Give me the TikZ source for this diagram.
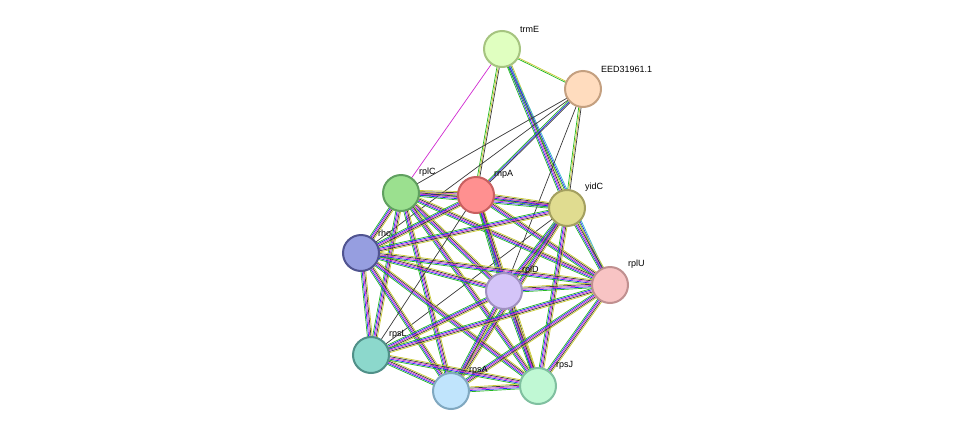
\documentclass[tikz,border=0pt]{standalone}
\usepackage{fontspec}
\setmainfont{Liberation Sans}
\usetikzlibrary{calc}
\definecolor{egr}{HTML}{22B822}
\definecolor{ebl}{HTML}{2828F0}
\definecolor{emg}{HTML}{D028D0}
\definecolor{ebk}{HTML}{383838}
\definecolor{eyl}{HTML}{C8C830}
\definecolor{elg}{HTML}{70D010}
\definecolor{ecy}{HTML}{30B8C8}
\newcommand\edg[3]{\foreach \c [count=\i] in {#3}{\draw[color=\c, line width=0.7pt] ($(#1)!{(\i-2.5)*1.2pt}!90:(#2)$) -- ($(#2)!{(\i-2.5)*1.2pt}!-90:(#1)$);}}
\tikzset{nd/.style={circle,minimum size=36pt,inner sep=0pt,line width=2pt},
lb/.style={anchor=south west,font=\fontsize{9pt}{9pt}\selectfont,inner sep=0pt}}
\begin{document}
\begin{tikzpicture}[x=1pt,y=-1pt]
\useasboundingbox (0,0) rectangle (975,437);
\coordinate (trmE) at (502,49);
\coordinate (EED) at (583,89);
\coordinate (rplC) at (401,193);
\coordinate (rnpA) at (476,195);
\coordinate (yidC) at (567,208);
\coordinate (rho) at (361,253);
\coordinate (rplD) at (504,291);
\coordinate (rplU) at (610,285);
\coordinate (rpsL) at (371,355);
\coordinate (rpsA) at (451,391);
\coordinate (rpsJ) at (538,386);
\edg{trmE}{EED}{egr,eyl}
\draw[color=emg,line width=0.7pt] (trmE) -- (rplC);
\edg{trmE}{rnpA}{egr,eyl,ebk}
\edg{trmE}{yidC}{egr,ebl,emg,ebk,eyl}
\edg{trmE}{rplU}{egr,ebl,ecy}
\edg{EED}{yidC}{egr,eyl,ebk}
\draw[color=ebk,line width=0.7pt] (EED) -- (rplC);
\edg{EED}{rnpA}{egr,ebl,ebk}
\draw[color=ebk,line width=0.7pt] (EED) -- (rplD);
\draw[color=ebk,line width=0.7pt] (EED) -- (rho);
\draw[color=ebk,line width=0.7pt] (yidC) -- (rpsL);
\foreach \a/\b in {rplC/rnpA,rplC/yidC,rplC/rho,rplC/rplD,rplC/rplU,rplC/rpsL,rplC/rpsA,rplC/rpsJ,
rnpA/yidC,rnpA/rho,rnpA/rplD,rnpA/rplU,rnpA/rpsJ,
yidC/rho,yidC/rplD,yidC/rplU,yidC/rpsA,yidC/rpsJ,
rho/rplD,rho/rpsL,rho/rpsA,rho/rpsJ,rho/rplU,
rplD/rplU,rplD/rpsL,rplD/rpsA,rplD/rpsJ,
rplU/rpsL,rplU/rpsA,rplU/rpsJ,
rpsL/rpsA,rpsL/rpsJ,rpsA/rpsJ}
{\edg{\a}{\b}{egr,ebl,emg,ebk,eyl}}
\draw[color=ebk,line width=0.7pt] (rnpA) -- (rpsL);
\node[nd,fill={rgb,255:red,224;green,255;blue,192},draw={rgb,255:red,166;green,196;blue,128}] (n1) at (trmE) {};
\node[nd,fill={rgb,255:red,255;green,220;blue,190},draw={rgb,255:red,196;green,160;blue,128}] (n2) at (EED) {};
\node[nd,fill={rgb,255:red,155;green,224;blue,143},draw={rgb,255:red,96;green,160;blue,96}] (n3) at (rplC) {};
\node[nd,fill={rgb,255:red,255;green,144;blue,144},draw={rgb,255:red,200;green,96;blue,96}] (n4) at (rnpA) {};
\node[nd,fill={rgb,255:red,224;green,220;blue,144},draw={rgb,255:red,164;green,160;blue,96}] (n5) at (yidC) {};
\node[nd,fill={rgb,255:red,150;green,158;blue,224},draw={rgb,255:red,80;green,84;blue,144}] (n6) at (rho) {};
\node[nd,fill={rgb,255:red,212;green,196;blue,248},draw={rgb,255:red,160;green,144;blue,192}] (n7) at (rplD) {};
\node[nd,fill={rgb,255:red,248;green,196;blue,196},draw={rgb,255:red,192;green,144;blue,144}] (n8) at (rplU) {};
\node[nd,fill={rgb,255:red,140;green,216;blue,204},draw={rgb,255:red,80;green,144;blue,136}] (n9) at (rpsL) {};
\node[nd,fill={rgb,255:red,192;green,228;blue,252},draw={rgb,255:red,128;green,168;blue,192}] (n10) at (rpsA) {};
\node[nd,fill={rgb,255:red,192;green,248;blue,212},draw={rgb,255:red,128;green,192;blue,160}] (n11) at (rpsJ) {};
\node[lb] (l1) at (520,33) {trmE};
\node[lb] (l2) at (601,73) {EED31961.1};
\node[lb] (l3) at (419,177) {rplC};
\node[lb] (l4) at (494,179) {rnpA};
\node[lb] (l5) at (585,192) {yidC};
\node[lb] (l6) at (378,237) {rho};
\node[lb] (l7) at (522,275) {rplD};
\node[lb] (l8) at (628,269) {rplU};
\node[lb] (l9) at (389,339) {rpsL};
\node[lb] (l10) at (469,375) {rpsA};
\node[lb] (l11) at (556,370) {rpsJ};
\end{tikzpicture}
\end{document}
